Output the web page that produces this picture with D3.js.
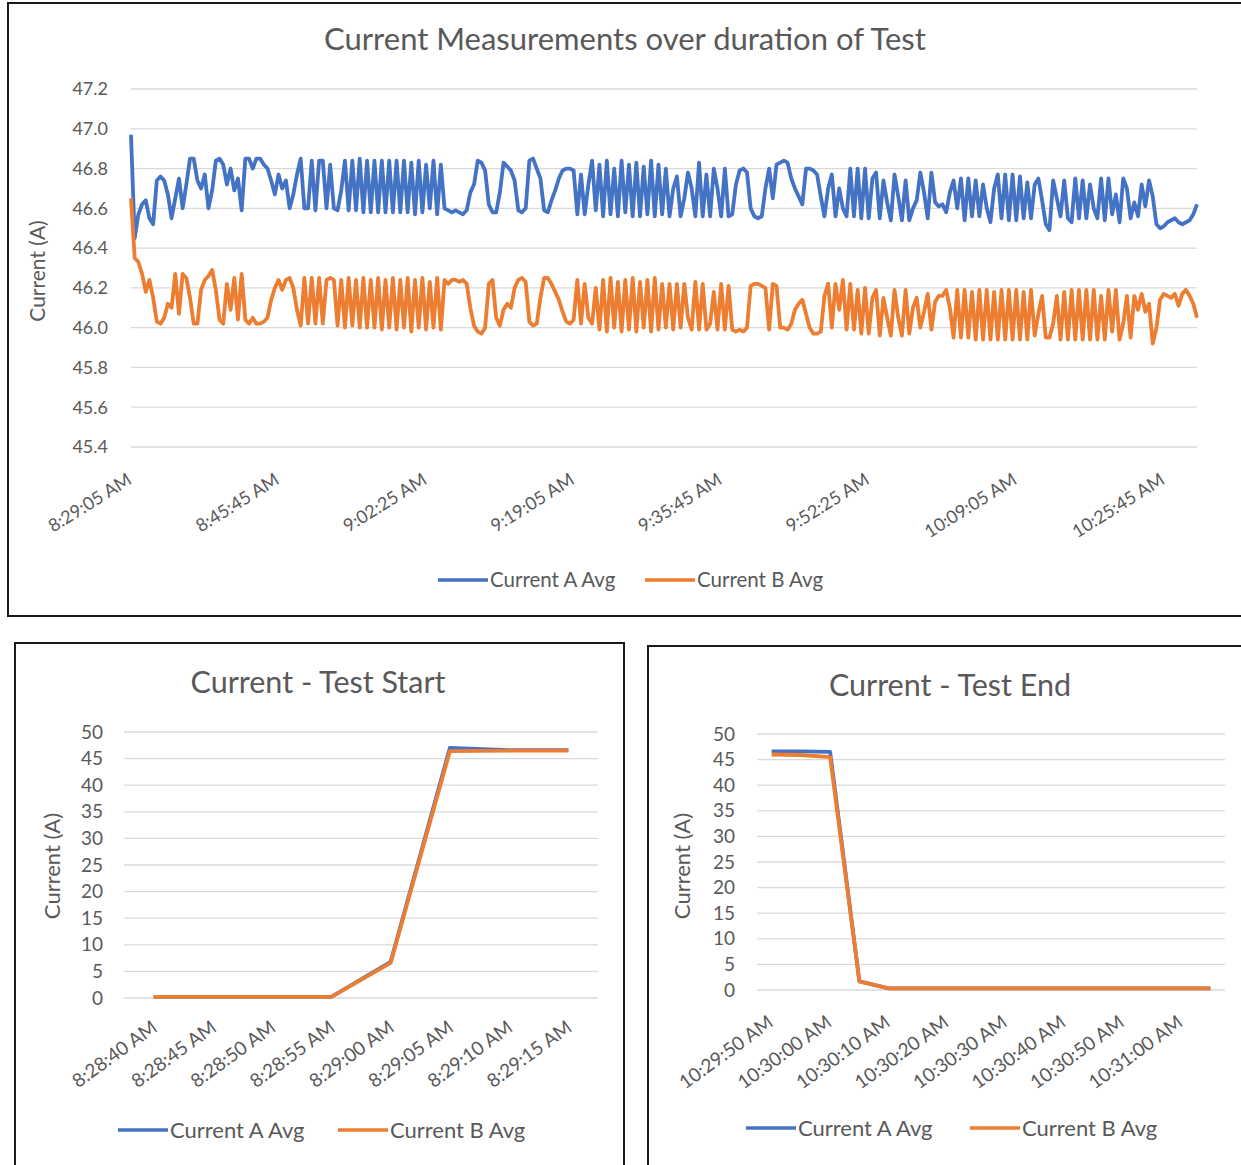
<!DOCTYPE html>
<meta charset="utf-8">
<style>
body { margin: 0; background: #fff; }
text { font-family: Lato, "Open Sans", sans-serif; fill: #595959; }
.grid line { stroke: #d9d9d9; stroke-width: 1.3px; }
.frame { fill: none; stroke: #1a1a1a; stroke-width: 2px; }
.series { fill: none; stroke-linejoin: round; stroke-linecap: butt; }
</style>
<body>
<script src="https://cdn.jsdelivr.net/npm/d3@7"></script>
<script>

// main chart: one reading every 25 s, starting 8:29:05 AM
var mainA = [
  46.97, 46.45, 46.57, 46.62, 46.64, 46.55, 46.52, 46.74, 46.76, 46.74,
  46.67, 46.55, 46.65, 46.75, 46.60, 46.72, 46.85, 46.85, 46.74, 46.70,
  46.77, 46.60, 46.69, 46.84, 46.85, 46.82, 46.72, 46.80, 46.69, 46.75,
  46.59, 46.85, 46.85, 46.80, 46.85, 46.85, 46.82, 46.80, 46.74, 46.67,
  46.77, 46.70, 46.74, 46.60, 46.67, 46.77, 46.85, 46.60, 46.60, 46.84,
  46.59, 46.84, 46.84, 46.60, 46.82, 46.60, 46.59, 46.69, 46.84, 46.59,
  46.84, 46.59, 46.85, 46.58, 46.84, 46.58, 46.84, 46.58, 46.84, 46.58,
  46.84, 46.58,
  46.84, 46.58, 46.84, 46.58, 46.83, 46.57, 46.84, 46.58, 46.82, 46.60, 46.84, 46.57, 46.82, 46.60,
  46.59, 46.58, 46.59, 46.58, 46.57, 46.59,
  46.68, 46.72, 46.84, 46.83, 46.79, 46.62, 46.58, 46.58,
  46.68, 46.83, 46.81, 46.79, 46.74, 46.59, 46.58, 46.60, 46.84, 46.85,
  46.80, 46.75, 46.59, 46.58, 46.64, 46.69, 46.75, 46.79, 46.80, 46.80,
  46.79, 46.57, 46.77, 46.57, 46.72, 46.84, 46.59,
  46.82, 46.56, 46.84, 46.57, 46.80, 46.56, 46.84, 46.58, 46.82, 46.56, 46.83, 46.56, 46.81, 46.57, 46.84, 46.56, 46.82, 46.57,
  46.80, 46.56, 46.70, 46.76, 46.56, 46.65, 46.78, 46.70, 46.56, 46.83, 46.56, 46.77, 46.56, 46.80, 46.70, 46.56, 46.80, 46.56,
  46.57, 46.72, 46.79, 46.80, 46.78, 46.60, 46.56, 46.55, 46.56, 46.70,
  46.80, 46.65, 46.82, 46.83, 46.84, 46.83, 46.75, 46.70, 46.66, 46.62,
  46.80, 46.80, 46.79, 46.77, 46.66, 46.56, 46.70, 46.77, 46.56, 46.70,
  46.60, 46.56, 46.80, 46.56, 46.80, 46.55, 46.80, 46.55, 46.75, 46.78,
  46.55, 46.74, 46.63, 46.54, 46.77, 46.66, 46.54, 46.74, 46.54, 46.60,
  46.64, 46.78, 46.68, 46.55, 46.78,
  46.63, 46.61, 46.62, 46.58, 46.68, 46.74, 46.60, 46.75, 46.54, 46.75,
  46.56, 46.74, 46.56, 46.72, 46.60, 46.53, 46.70, 46.77, 46.55, 46.77,
  46.54, 46.77, 46.54, 46.76, 46.55, 46.73, 46.55, 46.72, 46.75, 46.64,
  46.52, 46.49, 46.74, 46.65, 46.56, 46.74, 46.55, 46.53, 46.75, 46.55,
  46.74, 46.55, 46.72, 46.60, 46.55, 46.75, 46.54, 46.75, 46.57, 46.67,
  46.53, 46.75, 46.70, 46.55, 46.63, 46.56, 46.72, 46.61, 46.74, 46.66,
  46.52, 46.50, 46.51, 46.53, 46.54, 46.55, 46.53, 46.52, 46.53, 46.54, 46.57, 46.62
];

var mainB = [
  46.65, 46.35, 46.33, 46.27, 46.18, 46.24, 46.15, 46.03, 46.02, 46.05,
  46.12, 46.10, 46.27, 46.07, 46.27, 46.25, 46.15, 46.02, 46.02, 46.19,
  46.24, 46.26, 46.29, 46.19, 46.04, 46.02, 46.22, 46.09, 46.25, 46.04,
  46.27, 46.04, 46.02, 46.05, 46.02, 46.02, 46.03, 46.05, 46.14, 46.20,
  46.24, 46.19, 46.24, 46.25, 46.20, 46.09, 46.01, 46.25, 46.02, 46.25,
  46.02, 46.25, 46.02, 46.24, 46.25, 46.24, 46.01, 46.24, 46.00, 46.25,
  46.01, 46.24, 46.00, 46.25, 46.00, 46.24, 46.00, 46.25, 45.99, 46.24,
  46.00, 46.25,
  45.99, 46.24, 46.00, 46.25, 45.98, 46.24, 46.00, 46.25, 45.99, 46.23, 46.00, 46.25, 45.99, 46.24,
  46.22, 46.24, 46.24, 46.23, 46.24, 46.22,
  46.10, 46.01, 45.98, 45.97, 46.00, 46.22, 46.24, 46.05,
  46.01, 46.09, 46.12, 46.10, 46.20, 46.24, 46.25, 46.23, 46.03, 46.01,
  46.02, 46.15, 46.25, 46.25, 46.22, 46.18, 46.14, 46.08, 46.03, 46.02,
  46.04, 46.24, 46.02, 46.22, 46.05, 46.02, 46.20,
  45.99, 46.24, 45.98, 46.25, 46.00, 46.23, 45.98, 46.24, 45.99, 46.25, 45.98, 46.23, 46.00, 46.24, 45.98, 46.25, 45.99, 46.22,
  46.00, 46.22, 45.99, 46.22, 46.00, 46.22, 46.05, 45.99, 46.23, 45.99, 46.22, 45.99, 46.02, 46.18, 45.99, 46.22, 45.99, 46.21,
  45.99, 45.98, 45.99, 45.98, 46.00, 46.21, 46.22, 46.22, 46.21, 46.20,
  45.99, 46.22, 46.21, 46.00, 46.00, 45.99, 46.02, 46.09, 46.12, 46.14,
  46.07, 46.00, 45.97, 45.97, 45.98, 46.16, 46.22, 46.00, 46.22, 46.09,
  46.24, 45.99, 46.22, 45.99, 46.19, 45.97, 46.20, 45.97, 46.15, 46.19,
  45.96, 46.15, 46.05, 45.96, 46.19, 46.05, 45.96, 46.19, 45.97, 46.10,
  46.15, 46.00, 46.08, 46.17, 45.99,
  46.13, 46.16, 46.16, 46.19, 46.10, 45.95, 46.19, 45.95, 46.19, 45.95,
  46.18, 45.94, 46.19, 45.94, 46.19, 45.94, 46.18, 45.94, 46.19, 45.94,
  46.19, 45.94, 46.19, 45.94, 46.18, 45.94, 46.19, 45.96, 46.07, 46.16,
  45.95, 45.95, 46.02, 46.16, 45.94, 46.18, 45.94, 46.19, 45.94, 46.19,
  45.94, 46.19, 45.94, 46.19, 45.94, 46.16, 45.94, 46.19, 45.98, 46.19,
  45.94, 46.02, 46.16, 45.95, 46.16, 46.09, 46.17, 46.08, 46.12, 45.92,
  46.00, 46.14, 46.17, 46.16, 46.15, 46.17, 46.11, 46.17, 46.19, 46.16, 46.12, 46.05
];

// one label every 40 readings (16 min 40 s)
var mainTickLabels = ["8:29:05 AM", "8:45:45 AM", "9:02:25 AM", "9:19:05 AM",
                      "9:35:45 AM", "9:52:25 AM", "10:09:05 AM", "10:25:45 AM"];
var mainTickEvery = 40;

// test start
var startTimes = ["8:28:40 AM", "8:28:45 AM", "8:28:50 AM", "8:28:55 AM",
                  "8:29:00 AM", "8:29:05 AM", "8:29:10 AM", "8:29:15 AM"];
var startA = [0.2, 0.2, 0.2, 0.2, 6.8, 47.0, 46.6, 46.6];
var startB = [0.2, 0.2, 0.2, 0.2, 6.6, 46.4, 46.5, 46.5];

// test end
var endTimes = ["10:29:50 AM", "10:29:55 AM", "10:30:00 AM", "10:30:05 AM",
                "10:30:10 AM", "10:30:15 AM", "10:30:20 AM", "10:30:25 AM",
                "10:30:30 AM", "10:30:35 AM", "10:30:40 AM", "10:30:45 AM",
                "10:30:50 AM", "10:30:55 AM", "10:31:00 AM", "10:31:05 AM"];
var endA = [46.6, 46.6, 46.5, 1.7, 0.3, 0.3, 0.3, 0.3, 0.3, 0.3, 0.3, 0.3, 0.3, 0.3, 0.3, 0.3];
var endB = [46.0, 45.9, 45.5, 1.7, 0.3, 0.3, 0.3, 0.3, 0.3, 0.3, 0.3, 0.3, 0.3, 0.3, 0.3, 0.3];

var seriesNames = ["Current A Avg", "Current B Avg"];
var colors = ["#4472c4", "#ed7d31"];

var svg = d3.select("body").append("svg")
    .attr("width", 1241)
    .attr("height", 1165);

// draws one framed chart
function drawChart(c) {
  var g = svg.append("g");

  g.append("rect").attr("class", "frame")
    .attr("x", c.frame[0]).attr("y", c.frame[1])
    .attr("width", c.frame[2]).attr("height", c.frame[3]);

  g.append("text")
    .attr("x", c.titleX).attr("y", c.titleY)
    .attr("text-anchor", "middle")
    .style("font-size", c.titleSize + "px")
    .text(c.title);

  // gridlines and y labels
  var ticks = c.yTicks;
  var grid = g.append("g").attr("class", "grid");
  grid.selectAll("line").data(ticks).enter().append("line")
    .attr("x1", c.x.range()[0]).attr("x2", c.x.range()[1])
    .attr("y1", function(d) { return c.y(d); })
    .attr("y2", function(d) { return c.y(d); });

  g.selectAll(".ylab").data(ticks).enter().append("text")
    .attr("class", "ylab")
    .attr("x", c.yLabelX)
    .attr("y", function(d) { return c.y(d); })
    .attr("dy", "0.35em")
    .attr("text-anchor", "end")
    .style("font-size", c.tickSize + "px")
    .text(c.yFormat);

  g.append("text")
    .attr("transform", "translate(" + c.axisTitleX + "," + c.axisTitleY + ") rotate(-90)")
    .attr("text-anchor", "middle")
    .attr("dy", "0.35em")
    .style("font-size", c.axisTitleSize + "px")
    .text("Current (A)");

  // x labels
  g.selectAll(".xlab").data(c.xTicks).enter().append("text")
    .attr("class", "xlab")
    .attr("text-anchor", "end")
    .style("font-size", c.tickSize + "px")
    .attr("transform", function(d) {
      return "translate(" + (c.xPos(d) + c.xLabelDx) + "," + c.xLabelY + ") rotate(" + c.xAngle + ")";
    })
    .text(function(d) { return d.label; });

  // lines
  var line = d3.line()
    .x(function(d, i) { return c.xOf(i); })
    .y(function(d) { return c.y(d); });

  g.selectAll(".series").data(c.series).enter().append("path")
    .attr("class", "series")
    .attr("stroke", function(d, i) { return colors[i]; })
    .attr("stroke-width", c.lineWidth)
    .attr("d", line);

  // legend
  var leg = g.selectAll(".leg").data(seriesNames).enter().append("g")
    .attr("transform", function(d, i) { return "translate(" + c.legendX[i] + "," + c.legendY + ")"; });
  leg.append("line")
    .attr("x1", 0).attr("x2", c.legendLine)
    .attr("stroke", function(d, i) { return colors[i]; })
    .attr("stroke-width", 3.5);
  leg.append("text")
    .attr("x", c.legendLine + 2)
    .attr("dy", "0.35em")
    .style("font-size", c.legendSize + "px")
    .text(function(d) { return d; });
}

// main chart
var mx = d3.scaleLinear().domain([0, mainA.length - 1]).range([131, 1197]);
var my = d3.scaleLinear().domain([45.4, 47.2]).range([447, 89]);
drawChart({
  frame: [8, 3, 1245, 613],
  title: "Current Measurements over duration of Test",
  titleX: 625, titleY: 50, titleSize: 31,
  x: mx, y: my,
  yTicks: my.ticks(10), yFormat: d3.format(".1f"), yLabelX: 108,
  axisTitleX: 38, axisTitleY: 271, axisTitleSize: 21,
  xTicks: mainTickLabels.map(function(l, i) { return {label: l, idx: i * mainTickEvery}; }),
  xPos: function(d) { return mx(d.idx); },
  xOf: function(i) { return mx(i); },
  xLabelDx: 2, xLabelY: 483, xAngle: -32,
  tickSize: 18, legendSize: 20.5,
  series: [mainA, mainB], lineWidth: 3.8,
  legendX: [438, 645], legendY: 580, legendLine: 50
});

// test start
var sx = d3.scalePoint().domain(startTimes).range([124, 598]).padding(0.5);
var sy = d3.scaleLinear().domain([0, 50]).range([998, 732]);
drawChart({
  frame: [15, 643, 609, 540],
  title: "Current - Test Start",
  titleX: 318, titleY: 693, titleSize: 30.5,
  x: sx, y: sy,
  yTicks: sy.ticks(10), yFormat: d3.format("d"), yLabelX: 103,
  axisTitleX: 52, axisTitleY: 866, axisTitleSize: 22,
  xTicks: startTimes.map(function(l) { return {label: l}; }),
  xPos: function(d) { return sx(d.label); },
  xOf: function(i) { return sx(startTimes[i]); },
  xLabelDx: 5, xLabelY: 1030, xAngle: -36,
  tickSize: 19, legendSize: 22,
  series: [startA, startB], lineWidth: 3.8,
  legendX: [118, 338], legendY: 1130, legendLine: 50
});

// test end
var ex = d3.scalePoint().domain(endTimes).range([757, 1225]).padding(0.5);
var ey = d3.scaleLinear().domain([0, 50]).range([990, 734]);
drawChart({
  frame: [648, 646, 600, 540],
  title: "Current - Test End",
  titleX: 950, titleY: 696, titleSize: 30.5,
  x: ex, y: ey,
  yTicks: ey.ticks(10), yFormat: d3.format("d"), yLabelX: 735,
  axisTitleX: 682, axisTitleY: 866, axisTitleSize: 22,
  xTicks: endTimes.filter(function(l, i) { return i % 2 === 0; }).map(function(l) { return {label: l}; }),
  xPos: function(d) { return ex(d.label); },
  xOf: function(i) { return ex(endTimes[i]); },
  xLabelDx: 3, xLabelY: 1025, xAngle: -36,
  tickSize: 19, legendSize: 22,
  series: [endA, endB], lineWidth: 3.8,
  legendX: [746, 970], legendY: 1128, legendLine: 50
});

</script>
</body>
